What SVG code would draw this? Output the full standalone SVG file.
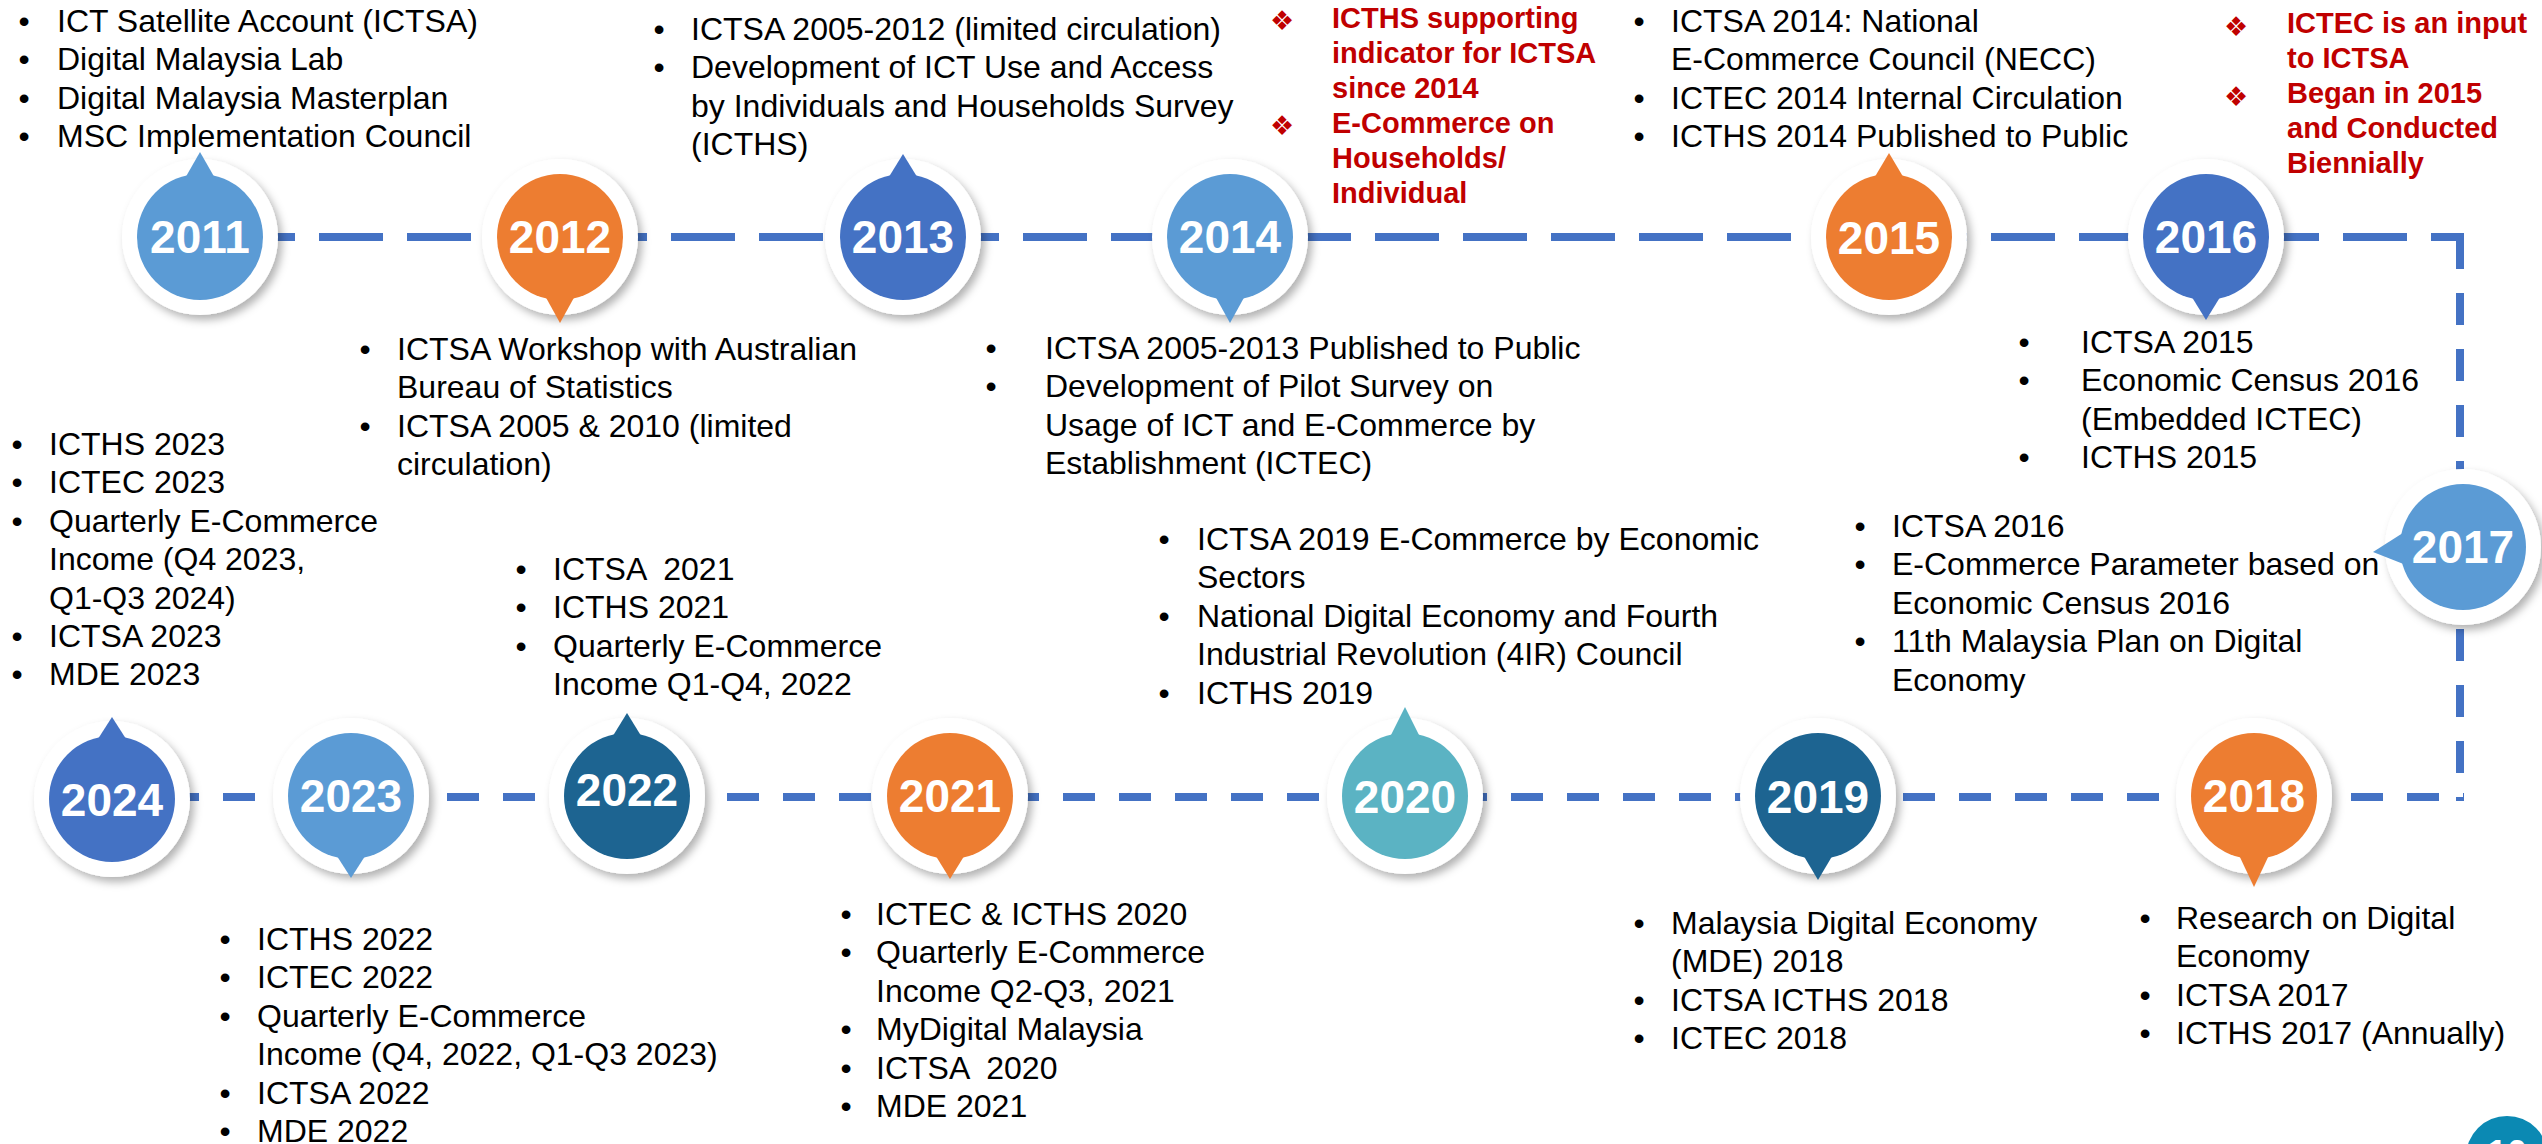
<svg xmlns="http://www.w3.org/2000/svg" width="2542" height="1144" viewBox="0 0 2542 1144">
  <defs>
    <filter id="sh" x="-30%" y="-30%" width="160%" height="160%">
      <feDropShadow dx="4" dy="5" stdDeviation="4" flood-color="#000" flood-opacity="0.3"/>
    </filter>
    <style>
      .t{font-family:"Liberation Sans",Arial,sans-serif;font-size:32px;fill:#000;white-space:pre}
      .b{font-family:"Liberation Sans",Arial,sans-serif;font-size:32px;fill:#000;text-anchor:middle}
      .r{font-family:"Liberation Sans",Arial,sans-serif;font-size:29px;font-weight:bold;fill:#C00000}
      .dm{font-family:"DejaVu Sans",sans-serif;font-size:27px;fill:#C00000;text-anchor:middle}
      .yr{font-family:"Liberation Sans",Arial,sans-serif;font-size:46px;font-weight:bold;fill:#fff;text-anchor:middle}
      .halo{fill:#fff;filter:url(#sh)}
      .dash{fill:none;stroke:#4472C4;stroke-width:8}
      .c1{fill:#5B9BD5}
      .c2{fill:#ED7D31}
      .c3{fill:#4472C4}
      .c4{fill:#1D6491}
      .c5{fill:#5BB3C3}
    </style>
  </defs>
  <rect width="2542" height="1144" fill="#fff"/>

  <!-- timeline connectors -->
  <g id="connectors">
    <path class="dash" d="M143,237 H2464" stroke-dasharray="64 24"/>
    <path class="dash" d="M2460,237 V801" stroke-dasharray="32 24"/>
    <path class="dash" d="M111,797 H2464" stroke-dasharray="32 24"/>
  </g>

  <!-- 2011 -->
  <g id="node-2011">
    <g transform="translate(200,237)">
      <circle class="halo" r="78"/>
      <circle class="c1" r="63"/>
      <polygon class="c1" points="-16,-57 16,-57 0,-85"/>
      <text class="yr" y="16">2011</text>
    </g>
    <text class="b"><tspan x="24" y="32">•</tspan><tspan x="24" y="70.4">•</tspan><tspan x="24" y="108.8">•</tspan><tspan x="24" y="147.2">•</tspan></text>
    <text class="t"><tspan x="57" y="32">ICT Satellite Account (ICTSA)</tspan><tspan x="57" y="70.4">Digital Malaysia Lab</tspan><tspan x="57" y="108.8">Digital Malaysia Masterplan</tspan><tspan x="57" y="147.2">MSC Implementation Council</tspan></text>
  </g>

  <!-- 2012 -->
  <g id="node-2012">
    <g transform="translate(560,237)">
      <circle class="halo" r="78"/>
      <circle class="c2" r="63"/>
      <polygon class="c2" points="-16,57 16,57 0,86"/>
      <text class="yr" y="16">2012</text>
    </g>
    <text class="b"><tspan x="365" y="360">•</tspan><tspan x="365" y="436.8">•</tspan></text>
    <text class="t"><tspan x="397" y="360">ICTSA Workshop with Australian</tspan><tspan x="397" y="398.4">Bureau of Statistics</tspan><tspan x="397" y="436.8">ICTSA 2005 &amp; 2010 (limited</tspan><tspan x="397" y="475.2">circulation)</tspan></text>
  </g>

  <!-- 2013 -->
  <g id="node-2013">
    <g transform="translate(903,237)">
      <circle class="halo" r="78"/>
      <circle class="c3" r="63"/>
      <polygon class="c3" points="-16,-57 16,-57 0,-83"/>
      <text class="yr" y="16">2013</text>
    </g>
    <text class="b"><tspan x="659" y="40">•</tspan><tspan x="659" y="78.4">•</tspan></text>
    <text class="t"><tspan x="691" y="40">ICTSA 2005-2012 (limited circulation)</tspan><tspan x="691" y="78.4">Development of ICT Use and Access</tspan><tspan x="691" y="116.8">by Individuals and Households Survey</tspan><tspan x="691" y="155.2">(ICTHS)</tspan></text>
  </g>

  <!-- 2014 -->
  <g id="node-2014">
    <g transform="translate(1230,237)">
      <circle class="halo" r="78"/>
      <circle class="c1" r="63"/>
      <polygon class="c1" points="-16,57 16,57 0,86"/>
      <text class="yr" y="16">2014</text>
    </g>
    <text class="dm"><tspan x="1282" y="30">❖</tspan><tspan x="1282" y="135">❖</tspan></text>
    <text class="r"><tspan x="1332" y="28">ICTHS supporting</tspan><tspan x="1332" y="63">indicator for ICTSA</tspan><tspan x="1332" y="98">since 2014</tspan><tspan x="1332" y="133">E-Commerce on</tspan><tspan x="1332" y="168">Households/</tspan><tspan x="1332" y="203">Individual</tspan></text>
    <text class="b"><tspan x="991" y="359">•</tspan><tspan x="991" y="397.4">•</tspan></text>
    <text class="t"><tspan x="1045" y="359">ICTSA 2005-2013 Published to Public</tspan><tspan x="1045" y="397.4">Development of Pilot Survey on</tspan><tspan x="1045" y="435.8">Usage of ICT and E-Commerce by</tspan><tspan x="1045" y="474.2">Establishment (ICTEC)</tspan></text>
  </g>

  <!-- 2015 -->
  <g id="node-2015">
    <g transform="translate(1889,237)">
      <circle class="halo" r="78"/>
      <circle class="c2" r="63"/>
      <polygon class="c2" points="-16,-57 16,-57 0,-84"/>
      <text class="yr" y="17">2015</text>
    </g>
    <text class="b"><tspan x="1639" y="32">•</tspan><tspan x="1639" y="108.8">•</tspan><tspan x="1639" y="147.2">•</tspan></text>
    <text class="t"><tspan x="1671" y="32">ICTSA 2014: National</tspan><tspan x="1671" y="70.4">E-Commerce Council (NECC)</tspan><tspan x="1671" y="108.8">ICTEC 2014 Internal Circulation</tspan><tspan x="1671" y="147.2">ICTHS 2014 Published to Public</tspan></text>
  </g>

  <!-- 2016 -->
  <g id="node-2016">
    <g transform="translate(2206,237)">
      <circle class="halo" r="78"/>
      <circle class="c3" r="63"/>
      <polygon class="c3" points="-16,57 16,57 0,83"/>
      <text class="yr" y="16">2016</text>
    </g>
    <text class="dm"><tspan x="2236" y="36">❖</tspan><tspan x="2236" y="106">❖</tspan></text>
    <text class="r"><tspan x="2287" y="33">ICTEC is an input</tspan><tspan x="2287" y="68">to ICTSA</tspan><tspan x="2287" y="103">Began in 2015</tspan><tspan x="2287" y="138">and Conducted</tspan><tspan x="2287" y="173">Biennially</tspan></text>
    <text class="b"><tspan x="2024" y="353">•</tspan><tspan x="2024" y="391.4">•</tspan><tspan x="2024" y="468.2">•</tspan></text>
    <text class="t"><tspan x="2081" y="353">ICTSA 2015</tspan><tspan x="2081" y="391.4">Economic Census 2016</tspan><tspan x="2081" y="429.8">(Embedded ICTEC)</tspan><tspan x="2081" y="468.2">ICTHS 2015</tspan></text>
  </g>

  <!-- 2017 -->
  <g id="node-2017">
    <g transform="translate(2463,547)">
      <circle class="halo" r="78"/>
      <circle class="c1" r="63"/>
      <polygon class="c1" points="-57,-16 -57,18 -90,5"/>
      <text class="yr" y="16">2017</text>
    </g>
    <text class="b"><tspan x="1860" y="537">•</tspan><tspan x="1860" y="575.4">•</tspan><tspan x="1860" y="652.2">•</tspan></text>
    <text class="t"><tspan x="1892" y="537">ICTSA 2016</tspan><tspan x="1892" y="575.4">E-Commerce Parameter based on</tspan><tspan x="1892" y="613.8">Economic Census 2016</tspan><tspan x="1892" y="652.2">11th Malaysia Plan on Digital</tspan><tspan x="1892" y="690.6">Economy</tspan></text>
  </g>

  <!-- 2018 -->
  <g id="node-2018">
    <g transform="translate(2254,796)">
      <circle class="halo" r="78"/>
      <circle class="c2" r="63"/>
      <polygon class="c2" points="-16,57 16,57 0,91"/>
      <text class="yr" y="16">2018</text>
    </g>
    <text class="b"><tspan x="2145" y="929">•</tspan><tspan x="2145" y="1005.8">•</tspan><tspan x="2145" y="1044.2">•</tspan></text>
    <text class="t"><tspan x="2176" y="929">Research on Digital</tspan><tspan x="2176" y="967.4">Economy</tspan><tspan x="2176" y="1005.8">ICTSA 2017</tspan><tspan x="2176" y="1044.2">ICTHS 2017 (Annually)</tspan></text>
  </g>

  <!-- 2019 -->
  <g id="node-2019">
    <g transform="translate(1818,796)">
      <circle class="halo" r="78"/>
      <circle class="c4" r="63"/>
      <polygon class="c4" points="-16,57 16,57 0,84"/>
      <text class="yr" y="17">2019</text>
    </g>
    <text class="b"><tspan x="1639" y="934">•</tspan><tspan x="1639" y="1010.8">•</tspan><tspan x="1639" y="1049.2">•</tspan></text>
    <text class="t"><tspan x="1671" y="934">Malaysia Digital Economy</tspan><tspan x="1671" y="972.4">(MDE) 2018</tspan><tspan x="1671" y="1010.8">ICTSA ICTHS 2018</tspan><tspan x="1671" y="1049.2">ICTEC 2018</tspan></text>
  </g>

  <!-- 2020 -->
  <g id="node-2020">
    <g transform="translate(1405,796)">
      <circle class="halo" r="78"/>
      <circle class="c5" r="63"/>
      <polygon class="c5" points="-16,-57 16,-57 0,-89"/>
      <text class="yr" y="17">2020</text>
    </g>
    <text class="b"><tspan x="1164" y="550">•</tspan><tspan x="1164" y="626.8">•</tspan><tspan x="1164" y="703.6">•</tspan></text>
    <text class="t"><tspan x="1197" y="550">ICTSA 2019 E-Commerce by Economic</tspan><tspan x="1197" y="588.4">Sectors</tspan><tspan x="1197" y="626.8">National Digital Economy and Fourth</tspan><tspan x="1197" y="665.2">Industrial Revolution (4IR) Council</tspan><tspan x="1197" y="703.6">ICTHS 2019</tspan></text>
  </g>

  <!-- 2021 -->
  <g id="node-2021">
    <g transform="translate(950,796)">
      <circle class="halo" r="78"/>
      <circle class="c2" r="63"/>
      <polygon class="c2" points="-16,57 16,57 0,83"/>
      <text class="yr" y="16">2021</text>
    </g>
    <text class="b"><tspan x="846" y="925">•</tspan><tspan x="846" y="963.4">•</tspan><tspan x="846" y="1040.2">•</tspan><tspan x="846" y="1078.6">•</tspan><tspan x="846" y="1117">•</tspan></text>
    <text class="t"><tspan x="876" y="925">ICTEC &amp; ICTHS 2020</tspan><tspan x="876" y="963.4">Quarterly E-Commerce</tspan><tspan x="876" y="1001.8">Income Q2-Q3, 2021</tspan><tspan x="876" y="1040.2">MyDigital Malaysia</tspan><tspan x="876" y="1078.6">ICTSA  2020</tspan><tspan x="876" y="1117">MDE 2021</tspan></text>
  </g>

  <!-- 2022 -->
  <g id="node-2022">
    <g transform="translate(627,796)">
      <circle class="halo" r="78"/>
      <circle class="c4" r="63"/>
      <polygon class="c4" points="-16,-57 16,-57 0,-83"/>
      <text class="yr" y="10">2022</text>
    </g>
    <text class="b"><tspan x="521" y="580">•</tspan><tspan x="521" y="618.4">•</tspan><tspan x="521" y="656.8">•</tspan></text>
    <text class="t"><tspan x="553" y="580">ICTSA  2021</tspan><tspan x="553" y="618.4">ICTHS 2021</tspan><tspan x="553" y="656.8">Quarterly E-Commerce</tspan><tspan x="553" y="695.2">Income Q1-Q4, 2022</tspan></text>
  </g>

  <!-- 2023 -->
  <g id="node-2023">
    <g transform="translate(351,796)">
      <circle class="halo" r="78"/>
      <circle class="c1" r="63"/>
      <polygon class="c1" points="-16,57 16,57 0,82"/>
      <text class="yr" y="16">2023</text>
    </g>
    <text class="b"><tspan x="225" y="950">•</tspan><tspan x="225" y="988.4">•</tspan><tspan x="225" y="1026.8">•</tspan><tspan x="225" y="1103.6">•</tspan><tspan x="225" y="1142">•</tspan></text>
    <text class="t"><tspan x="257" y="950">ICTHS 2022</tspan><tspan x="257" y="988.4">ICTEC 2022</tspan><tspan x="257" y="1026.8">Quarterly E-Commerce</tspan><tspan x="257" y="1065.2">Income (Q4, 2022, Q1-Q3 2023)</tspan><tspan x="257" y="1103.6">ICTSA 2022</tspan><tspan x="257" y="1142">MDE 2022</tspan></text>
  </g>

  <!-- 2024 -->
  <g id="node-2024">
    <g transform="translate(112,799)">
      <circle class="halo" r="78"/>
      <circle class="c3" r="63"/>
      <polygon class="c3" points="-16,-57 16,-57 0,-82"/>
      <text class="yr" y="17">2024</text>
    </g>
    <text class="b"><tspan x="17" y="455">•</tspan><tspan x="17" y="493.4">•</tspan><tspan x="17" y="531.8">•</tspan><tspan x="17" y="647">•</tspan><tspan x="17" y="685.4">•</tspan></text>
    <text class="t"><tspan x="49" y="455">ICTHS 2023</tspan><tspan x="49" y="493.4">ICTEC 2023</tspan><tspan x="49" y="531.8">Quarterly E-Commerce</tspan><tspan x="49" y="570.2">Income (Q4 2023,</tspan><tspan x="49" y="608.6">Q1-Q3 2024)</tspan><tspan x="49" y="647">ICTSA 2023</tspan><tspan x="49" y="685.4">MDE 2023</tspan></text>
  </g>

  <!-- page badge -->
  <g id="page-badge">
    <circle cx="2507" cy="1157" r="41" fill="#0B89B3"/>
    <text x="2507" y="1166" font-family="Liberation Sans, Arial, sans-serif" font-size="36" font-weight="bold" fill="#fff" text-anchor="middle">10</text>
  </g>
</svg>
